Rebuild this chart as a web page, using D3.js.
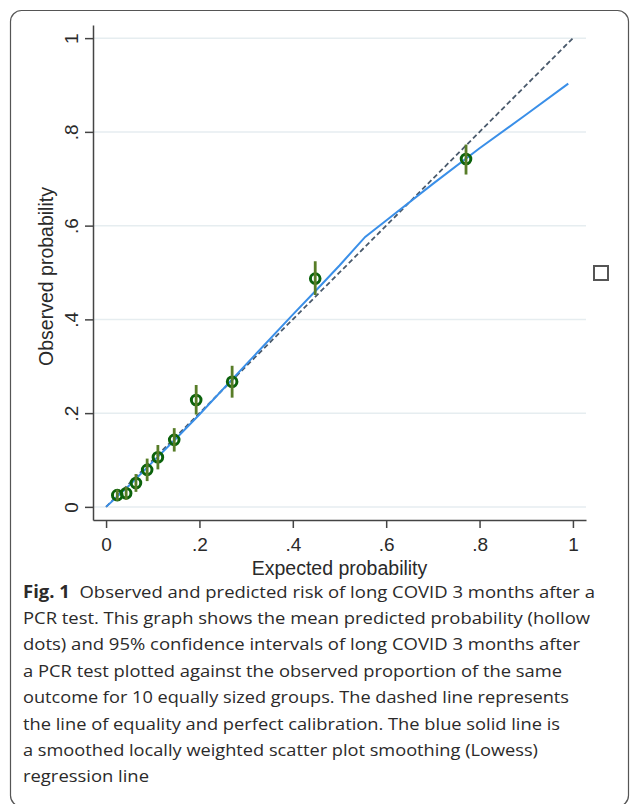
<!DOCTYPE html>
<html lang="en">
<head>
  <meta charset="utf-8">
  <script src="https://d3js.org/d3.v7.min.js"></script>
  <style>
    body { margin: 0; background: #fff; }
    .axis path, .axis line { stroke: #444; stroke-width: 1.5; }
    .axis text { font-family: "Liberation Sans", Arial, sans-serif; font-size: 19px; fill: #2a2a2a; }
    .title { font-family: "Liberation Sans", Arial, sans-serif; font-size: 19.5px; fill: #2a2a2a; }
    .caption { font-family: "Open Sans", sans-serif; font-size: 17px; fill: #2b2a2a; }
  </style>
</head>
<body>
<svg id="chart" width="630" height="804"></svg>

<script>
  // Calibration groups: expected (mean predicted) vs observed proportion with 95% CI
  const expected = [0.024, 0.043, 0.064, 0.088, 0.111, 0.146, 0.193, 0.270, 0.448, 0.771];
  const observed = [0.025, 0.029, 0.051, 0.079, 0.106, 0.143, 0.228, 0.267, 0.487, 0.742];
  const ciLow    = [0.013, 0.015, 0.032, 0.055, 0.080, 0.118, 0.197, 0.233, 0.452, 0.709];
  const ciHigh   = [0.037, 0.043, 0.070, 0.103, 0.132, 0.168, 0.260, 0.301, 0.524, 0.773];

  // Lowess smoother
  const lowessX = [0, 0.05, 0.10, 0.15, 0.20, 0.30, 0.40, 0.45, 0.50, 0.555, 0.60, 0.70, 0.80, 0.90, 0.99];
  const lowessY = [0, 0.046, 0.096, 0.146, 0.197, 0.304, 0.410, 0.462, 0.515, 0.576, 0.611, 0.689, 0.765, 0.837, 0.903];

  const tickValues = [0, 0.2, 0.4, 0.6, 0.8, 1];
  const tickLabels = ["0", ".2", ".4", ".6", ".8", "1"];

  const captionLines = [
    "Observed and predicted risk of long COVID 3 months after a",
    "PCR test. This graph shows the mean predicted probability (hollow",
    "dots) and 95% confidence intervals of long COVID 3 months after",
    "a PCR test plotted against the observed proportion of the same",
    "outcome for 10 equally sized groups. The dashed line represents",
    "the line of equality and perfect calibration. The blue solid line is",
    "a smoothed locally weighted scatter plot smoothing (Lowess)",
    "regression line"
  ];
  // right edge of each caption line in the reference
  const captionEnds = [595, 590, 580, 562, 569, 560, 538, 149];

  const svg = d3.select("#chart");

  // Outer frame
  svg.append("rect")
    .attr("x", 10.5).attr("y", 10.5)
    .attr("width", 618).attr("height", 796)
    .attr("rx", 11)
    .attr("fill", "none")
    .attr("stroke", "#555")
    .attr("stroke-width", 1.2);

  // Scales (plot region runs a bit past 0 and 1, like Stata)
  const x = d3.scaleLinear().domain([-0.028, 1.028]).range([93, 586]);
  const y = d3.scaleLinear().domain([-0.028, 1.028]).range([520, 25]);

  // Horizontal grid lines
  svg.selectAll(".grid")
    .data(tickValues)
    .join("line")
    .attr("class", "grid")
    .attr("x1", x.range()[0]).attr("x2", x.range()[1])
    .attr("y1", d => y(d)).attr("y2", d => y(d))
    .attr("stroke", "#e6edf0")
    .attr("stroke-width", 1.5);

  // Y axis
  const yAxis = d3.axisLeft(y)
    .tickValues(tickValues)
    .tickFormat((d, i) => tickLabels[i])
    .tickSize(8).tickSizeOuter(0);
  const gy = svg.append("g")
    .attr("class", "axis")
    .attr("transform", `translate(${x.range()[0]},0)`)
    .call(yAxis);
  gy.selectAll("text")
    .attr("x", null).attr("dy", null)
    .attr("text-anchor", "middle")
    .attr("transform", "translate(-15,0) rotate(-90)");

  // X axis
  const xAxis = d3.axisBottom(x)
    .tickValues(tickValues)
    .tickFormat((d, i) => tickLabels[i])
    .tickSize(8).tickSizeOuter(0);
  const gx = svg.append("g")
    .attr("class", "axis")
    .attr("transform", `translate(0,${y.range()[0]})`)
    .call(xAxis);
  gx.selectAll("text").attr("y", 31).attr("dy", null);

  // Axis titles
  svg.append("text")
    .attr("class", "title")
    .attr("x", (x(0) + x(1)) / 2).attr("y", 575)
    .attr("text-anchor", "middle")
    .text("Expected probability");
  svg.append("text")
    .attr("class", "title")
    .attr("text-anchor", "middle")
    .attr("transform", `translate(53,${(y(0) + y(1)) / 2 + 4}) rotate(-90)`)
    .text("Observed probability");

  // Line of equality (dashed)
  svg.append("line")
    .attr("x1", x(0)).attr("y1", y(0))
    .attr("x2", x(1)).attr("y2", y(1))
    .attr("stroke", "#4a5a6c")
    .attr("stroke-width", 1.8)
    .attr("stroke-dasharray", "5,3");

  // Lowess line
  const line = d3.line()
    .x((d, i) => x(lowessX[i]))
    .y(d => y(d));
  svg.append("path")
    .datum(lowessY)
    .attr("d", line)
    .attr("fill", "none")
    .attr("stroke", "#3a8fe8")
    .attr("stroke-width", 2);

  // Hollow markers
  svg.selectAll(".pt")
    .data(expected)
    .join("circle")
    .attr("class", "pt")
    .attr("cx", d => x(d))
    .attr("cy", (d, i) => y(observed[i]))
    .attr("r", 4.8)
    .attr("fill", "none")
    .attr("stroke", "#0b620b")
    .attr("stroke-width", 3);

  // 95% CI spikes
  svg.selectAll(".ci")
    .data(expected)
    .join("line")
    .attr("class", "ci")
    .attr("x1", d => x(d)).attr("x2", d => x(d))
    .attr("y1", (d, i) => y(ciLow[i]))
    .attr("y2", (d, i) => y(ciHigh[i]))
    .attr("stroke", "#587d28")
    .attr("stroke-width", 2.8);

  // Empty legend key box
  svg.append("rect")
    .attr("x", 594).attr("y", 266)
    .attr("width", 14).attr("height", 14)
    .attr("fill", "none")
    .attr("stroke", "#555")
    .attr("stroke-width", 2);

  // Caption
  svg.selectAll(".caption")
    .data(captionLines)
    .join("text")
    .attr("class", "caption")
    .attr("x", 23)
    .attr("y", (d, i) => 597.5 + i * 26.4)
    .attr("textLength", (d, i) => captionEnds[i] - 23)
    .attr("lengthAdjust", "spacingAndGlyphs")
    .each(function (d, i) {
      const t = d3.select(this);
      if (i === 0) {
        t.append("tspan").attr("font-weight", "bold").text("Fig. 1");
        t.append("tspan").text("\u00a0\u00a0" + d);
      } else {
        t.text(d);
      }
    });
</script>
</body>
</html>
